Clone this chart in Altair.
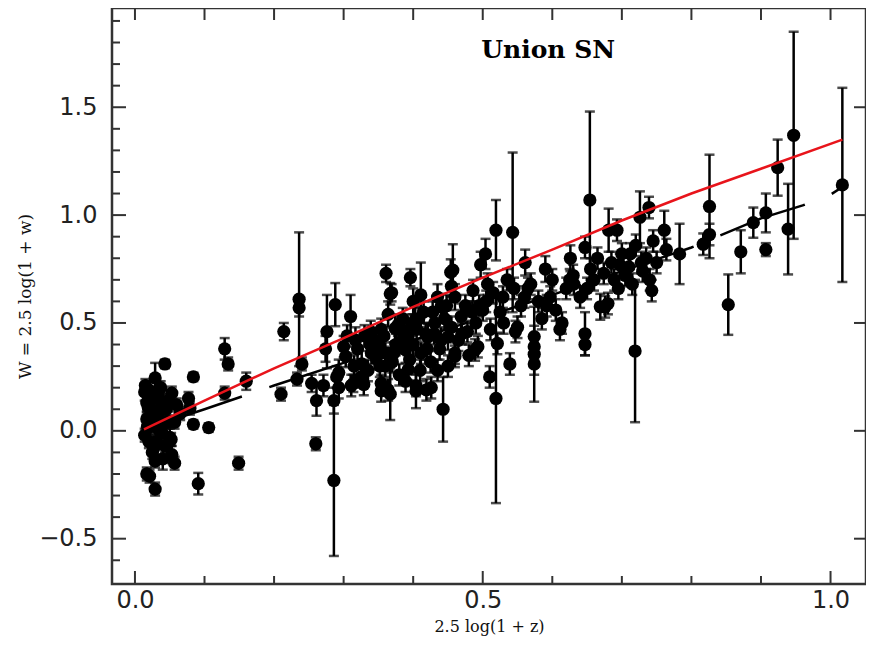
import altair as alt
import pandas as pd

# ---- supernova points: x = 2.5 log(1+z), y = W, e = error ----
sn_x = [0.014, 0.017, 0.017, 0.014, 0.020, 0.017, 0.029, 0.029, 0.021, 0.020,
        0.024, 0.029, 0.043, 0.033, 0.039, 0.039, 0.043, 0.053, 0.057, 0.053,
        0.057, 0.030, 0.035, 0.047, 0.019, 0.022, 0.026, 0.031, 0.045, 0.050,
        0.060, 0.065, 0.077, 0.079, 0.084, 0.084, 0.106, 0.091, 0.149, 0.129,
        0.134, 0.160, 0.129, 0.015, 0.025, 0.040,
        0.210, 0.214, 0.236, 0.236, 0.233, 0.240, 0.254, 0.260, 0.261, 0.271,
        0.274, 0.276, 0.286, 0.286, 0.288, 0.290, 0.293, 0.293, 0.303, 0.310,
        0.311, 0.314, 0.317, 0.326, 0.329, 0.339, 0.340, 0.347, 0.350, 0.354,
        0.354, 0.354, 0.360, 0.361, 0.364, 0.364, 0.367, 0.367, 0.369, 0.374,
        0.380, 0.383, 0.389, 0.389, 0.393, 0.396, 0.403, 0.404, 0.404, 0.411,
        0.411, 0.419, 0.421, 0.426, 0.431, 0.440, 0.440, 0.443, 0.450, 0.454,
        0.457, 0.460, 0.460, 0.460, 0.469,
        0.305, 0.320, 0.330, 0.335, 0.345, 0.360, 0.370, 0.375, 0.380, 0.385,
        0.390, 0.395, 0.400, 0.400, 0.405, 0.410, 0.415, 0.420, 0.425, 0.430,
        0.435, 0.435, 0.445, 0.450, 0.455, 0.455,
        0.470, 0.475, 0.480, 0.486, 0.489, 0.490, 0.493, 0.497, 0.500, 0.504,
        0.507, 0.510, 0.511, 0.519, 0.519, 0.521, 0.525, 0.529, 0.535, 0.539,
        0.543, 0.547, 0.550, 0.555, 0.561, 0.565, 0.569, 0.574, 0.574, 0.574,
        0.574, 0.580, 0.585, 0.590, 0.597, 0.600, 0.605, 0.611, 0.614, 0.620,
        0.626, 0.630, 0.631, 0.640, 0.647, 0.647, 0.647, 0.654, 0.655, 0.660,
        0.669, 0.674, 0.676, 0.680, 0.681, 0.685, 0.689, 0.693, 0.697, 0.700,
        0.705, 0.710, 0.715, 0.719, 0.720, 0.726, 0.730, 0.735, 0.739, 0.740,
        0.743, 0.745, 0.750,
        0.761, 0.764, 0.783, 0.817, 0.826, 0.826, 0.853, 0.871, 0.889, 0.907,
        0.907, 0.924, 0.939, 0.947, 1.017,
        0.018, 0.023, 0.027, 0.034, 0.037, 0.048, 0.052, 0.300, 0.315, 0.325,
        0.338, 0.352, 0.358, 0.372, 0.378, 0.392, 0.398, 0.408, 0.418, 0.428,
        0.438, 0.448, 0.465, 0.478, 0.485, 0.495, 0.505, 0.515, 0.530, 0.545,
        0.560, 0.592, 0.625, 0.650, 0.665, 0.695, 0.712, 0.728]
sn_y = [0.18, 0.13, 0.055, -0.02, -0.05, -0.20, -0.27, -0.14, -0.21, 0.19,
        0.08, 0.245, 0.31, 0.165, 0.13, -0.01, -0.07, 0.175, 0.04, -0.11,
        -0.15, -0.05, 0.0, 0.04, 0.11, 0.02, 0.15, 0.09, 0.10, -0.03,
        0.12, 0.08, 0.15, 0.105, 0.03, 0.25, 0.015, -0.245, -0.15, 0.38,
        0.31, 0.23, 0.175, 0.21, -0.10, -0.13,
        0.17, 0.46, 0.61, 0.57, 0.24, 0.31, 0.22, -0.06, 0.14, 0.21,
        0.38, 0.46, -0.23, 0.14, 0.585, 0.25, 0.27, 0.20, 0.345, 0.53,
        0.21, 0.22, 0.42, 0.31, 0.215, 0.46, 0.36, 0.335, 0.39, 0.47,
        0.185, 0.22, 0.30, 0.73, 0.54, 0.19, 0.635, 0.17, 0.64, 0.475,
        0.41, 0.47, 0.375, 0.23, 0.285, 0.71, 0.515, 0.185, 0.21, 0.63,
        0.36, 0.19, 0.435, 0.20, 0.50, 0.575, 0.42, 0.10, 0.435, 0.735,
        0.745, 0.62, 0.345, 0.36, 0.53,
        0.44, 0.38, 0.44, 0.28, 0.42, 0.36, 0.32, 0.40, 0.26, 0.52,
        0.44, 0.33, 0.60, 0.40, 0.47, 0.28, 0.55, 0.38, 0.32, 0.45,
        0.62, 0.28, 0.52, 0.30, 0.48, 0.67,
        0.45, 0.58, 0.35, 0.65, 0.375, 0.50, 0.39, 0.77, 0.56, 0.82,
        0.68, 0.25, 0.47, 0.93, 0.15, 0.405, 0.55, 0.62, 0.70, 0.31,
        0.92, 0.46, 0.48, 0.58, 0.78, 0.66, 0.68, 0.437, 0.31, 0.355,
        0.39, 0.60, 0.52, 0.75, 0.62, 0.70, 0.56, 0.47, 0.50, 0.66,
        0.80, 0.72, 0.68, 0.62, 0.85, 0.45, 0.40, 1.07, 0.75, 0.70,
        0.575, 0.73, 0.575, 0.59, 0.93, 0.78, 0.70, 0.93, 0.77, 0.82,
        0.72, 0.76, 0.68, 0.37, 0.86, 0.99, 0.74, 0.80, 1.035, 0.70,
        0.65, 0.88, 0.78,
        0.93, 0.84, 0.82, 0.865, 1.04, 0.91, 0.585, 0.83, 0.965, 1.01,
        0.84, 1.22, 0.935, 1.37, 1.14,
        0.02, 0.10, -0.08, 0.06, 0.20, 0.14, -0.04, 0.39, 0.30, 0.25,
        0.40, 0.30, 0.44, 0.36, 0.49, 0.40, 0.49, 0.52, 0.45, 0.55,
        0.38, 0.58, 0.42, 0.46, 0.55, 0.58, 0.60, 0.64, 0.50, 0.66,
        0.62, 0.58, 0.70, 0.66, 0.80, 0.66, 0.82, 0.78]
sn_e = [0.04, 0.04, 0.03, 0.03, 0.03, 0.03, 0.03, 0.03, 0.03, 0.04,
        0.03, 0.07, 0.02, 0.03, 0.03, 0.03, 0.03, 0.03, 0.03, 0.04,
        0.03, 0.03, 0.03, 0.03, 0.03, 0.03, 0.03, 0.03, 0.03, 0.04,
        0.03, 0.03, 0.03, 0.03, 0.02, 0.02, 0.02, 0.05, 0.03, 0.05,
        0.03, 0.04, 0.03, 0.03, 0.03, 0.05,
        0.03, 0.04, 0.31, 0.04, 0.03, 0.03, 0.04, 0.03, 0.07, 0.05,
        0.06, 0.17, 0.35, 0.06, 0.10, 0.05, 0.06, 0.05, 0.05, 0.10,
        0.05, 0.04, 0.06, 0.06, 0.05, 0.05, 0.05, 0.05, 0.05, 0.05,
        0.05, 0.04, 0.05, 0.04, 0.06, 0.05, 0.05, 0.12, 0.04, 0.06,
        0.05, 0.05, 0.06, 0.05, 0.05, 0.04, 0.06, 0.08, 0.05, 0.15,
        0.05, 0.05, 0.06, 0.05, 0.06, 0.06, 0.06, 0.15, 0.06, 0.06,
        0.12, 0.06, 0.05, 0.05, 0.06,
        0.05, 0.05, 0.05, 0.05, 0.05, 0.05, 0.05, 0.05, 0.05, 0.05,
        0.05, 0.05, 0.06, 0.05, 0.05, 0.05, 0.05, 0.05, 0.05, 0.05,
        0.06, 0.05, 0.05, 0.05, 0.05, 0.05,
        0.05, 0.05, 0.05, 0.05, 0.05, 0.05, 0.05, 0.06, 0.05, 0.07,
        0.05, 0.05, 0.05, 0.14, 0.485, 0.05, 0.05, 0.05, 0.05, 0.05,
        0.37, 0.05, 0.05, 0.05, 0.06, 0.05, 0.05, 0.05, 0.05, 0.22,
        0.05, 0.05, 0.05, 0.06, 0.05, 0.05, 0.05, 0.05, 0.05, 0.05,
        0.06, 0.05, 0.05, 0.05, 0.05, 0.10, 0.05, 0.41, 0.05, 0.05,
        0.06, 0.05, 0.05, 0.05, 0.10, 0.05, 0.05, 0.05, 0.05, 0.05,
        0.05, 0.05, 0.05, 0.33, 0.05, 0.12, 0.05, 0.05, 0.05, 0.05,
        0.05, 0.05, 0.05,
        0.09, 0.05, 0.14, 0.05, 0.24, 0.05, 0.14, 0.10, 0.07, 0.09,
        0.03, 0.13, 0.21, 0.48, 0.45,
        0.03, 0.03, 0.03, 0.03, 0.03, 0.03, 0.03, 0.05, 0.05, 0.05,
        0.05, 0.05, 0.05, 0.05, 0.05, 0.05, 0.05, 0.05, 0.05, 0.05,
        0.05, 0.05, 0.05, 0.05, 0.05, 0.05, 0.05, 0.05, 0.05, 0.05,
        0.05, 0.05, 0.05, 0.05, 0.05, 0.05, 0.05, 0.05]

# ---- model curves ----
red_x = [0.013, 0.10, 0.20, 0.30, 0.40, 0.50, 0.60, 0.70, 0.80, 0.90, 1.017]
red_y = [0.007, 0.14, 0.29, 0.43, 0.575, 0.71, 0.84, 0.975, 1.10, 1.215, 1.35]
blk_x = [0.031, 0.10, 0.20, 0.30, 0.40, 0.50, 0.60, 0.70, 0.80, 0.90, 0.96, 1.00, 1.017]
blk_y = [0.027, 0.10, 0.21, 0.315, 0.42, 0.525, 0.63, 0.74, 0.85, 0.985, 1.045, 1.095, 1.13]

# ---- axis ticks / labels ----
x_labels = [0.0, 0.5, 1.0]
x_minor = [0.1, 0.2, 0.3, 0.4, 0.6, 0.7, 0.8, 0.9]
x_all = [0.0, 0.1, 0.2, 0.3, 0.4, 0.5, 0.6, 0.7, 0.8, 0.9, 1.0]
y_labels = [-0.5, 0.0, 0.5, 1.0, 1.5]
y_minor = [-0.6, -0.4, -0.3, -0.2, -0.1, 0.1, 0.2, 0.3, 0.4, 0.6, 0.7, 0.8, 0.9,
           1.1, 1.2, 1.3, 1.4, 1.6, 1.7, 1.8, 1.9]

title_text = "Union SN"
x_title = "2.5 log(1 + z)"
y_title = "W = 2.5 log(1 + w)"

W, H = 754, 576
AX = "#333333"

sn = pd.DataFrame({"x": sn_x, "y": sn_y, "e": sn_e})
sn["lo"] = sn["y"] - sn["e"]
sn["hi"] = sn["y"] + sn["e"]

xs = alt.Scale(domain=[-0.033, 1.051], nice=False, zero=False)
ys = alt.Scale(domain=[-0.71, 1.96], nice=False, zero=False)
xaxis = alt.Axis(values=x_labels, format=".1f", title=x_title, labelPadding=4,
                 titleX=W / 2, titleY=42, titleBaseline="middle", titleAlign="center",
                 titleFontSize=16)
yaxis = alt.Axis(values=y_labels, format=".1f", title=y_title, labelPadding=15,
                 titleX=-87, titleY=H / 2, titleAngle=270, titleBaseline="middle",
                 titleAlign="center", titleFontSize=17)


def X(f="x"):
    return alt.X(f, type="quantitative", scale=xs, axis=xaxis)


def Y(f="y"):
    return alt.Y(f, type="quantitative", scale=ys, axis=yaxis)


black = alt.Chart(pd.DataFrame({"x": blk_x, "y": blk_y})).mark_line(
    color="black", strokeWidth=2.5, strokeDash=[90, 29]).encode(x=X(), y=Y(), order="x:Q")

bars = alt.Chart(sn).mark_rule(color="black", strokeWidth=2.5).encode(
    x=X(), y=Y("lo"), y2="hi")
cap_lo = alt.Chart(sn).mark_tick(color="black", orient="horizontal", size=10,
                                 thickness=2.5).encode(x=X(), y=Y("lo"))
cap_hi = alt.Chart(sn).mark_tick(color="black", orient="horizontal", size=10,
                                 thickness=2.5).encode(x=X(), y=Y("hi"))
pts = alt.Chart(sn).mark_circle(color="black", opacity=1, size=175).encode(x=X(), y=Y())

red = alt.Chart(pd.DataFrame({"x": red_x, "y": red_y})).mark_line(
    color="#e8141b", strokeWidth=2.5).encode(x=X(), y=Y(), order="x:Q")

label = alt.Chart(pd.DataFrame({"x": [0.594], "y": [1.767], "t": [title_text]})).mark_text(
    font="DejaVu Serif", fontWeight="bold", fontSize=25, color="black",
    align="center", baseline="middle").encode(x=X(), y=Y(), text="t:N")

xmaj = pd.DataFrame({"x": x_labels})
xmin = pd.DataFrame({"x": x_minor})
xall = pd.DataFrame({"x": x_all})
ymaj = pd.DataFrame({"y": y_labels})
ymin = pd.DataFrame({"y": y_minor})


def vrule(df, y0, y1):
    return alt.Chart(df).mark_rule(color=AX, strokeWidth=2).encode(
        x=X(), y=alt.value(y0), y2=alt.value(y1))


def hrule(df, x0, x1):
    return alt.Chart(df).mark_rule(color=AX, strokeWidth=2).encode(
        y=Y(), x=alt.value(x0), x2=alt.value(x1))


ticks = [
    vrule(xmaj, H, H - 13), vrule(xmin, H, H - 8), vrule(xall, 0, 12),
    hrule(ymaj, 0, 14), hrule(ymin, 0, 8), hrule(ymaj, W, W - 12),
]

chart = alt.layer(black, bars, cap_lo, cap_hi, pts, red, label, *ticks).properties(
    width=W, height=H,
    autosize=alt.AutoSizeParams(type="none"),
    padding={"left": 104, "top": 0, "right": 0, "bottom": 52},
).configure_view(stroke=AX, strokeWidth=2.5).configure_axis(
    domain=False, ticks=False, grid=False,
    labelFont="DejaVu Sans", labelFontSize=24, labelColor="#222222",
    titleFont="DejaVu Serif", titleFontWeight="normal", titleColor="#111111",
)

chart.save("out.html", embed_options={"renderer": "svg", "actions": False})
